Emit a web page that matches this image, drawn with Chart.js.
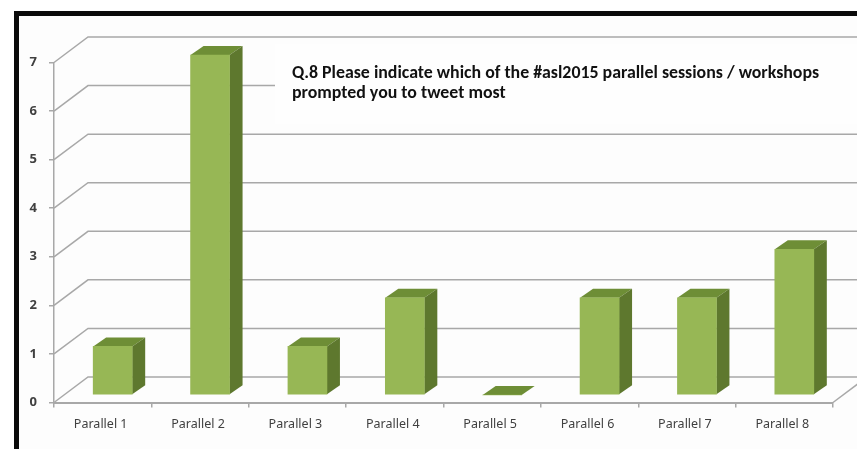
<!DOCTYPE html>
<html>
<head>
<meta charset="utf-8">
<script src="https://cdn.jsdelivr.net/npm/chart.js@4"></script>
<style>
  html, body { margin: 0; padding: 0; background: #fff; overflow: hidden; }
  canvas { display: block; filter: blur(0.35px); }
</style>
</head>
<body>
<canvas id="chart" width="857" height="449"></canvas>
<script>
const categories = ["Parallel 1", "Parallel 2", "Parallel 3", "Parallel 4", "Parallel 5", "Parallel 6", "Parallel 7", "Parallel 8"];
const counts = [1, 7, 1, 2, 0, 2, 2, 3];
const titleLines = ["Q.8 Please indicate which of the #asl2015 parallel sessions / workshops", "prompted you to tweet most"];

const GRID = "#a8a8a8";
const FRONT = "#97b755";
const TOP = "#6e8e36";
const SIDE = "#5e782e";

// the 3d look: bars sit in front of the axis plane, gridlines run on a back wall
const barShift = { x: 10, y: -7.5 };
const barDepth = { x: 13, y: -9 };
const wallDepth = { x: 34, y: -25.5 };

function poly(ctx, color, pts) {
  ctx.fillStyle = color;
  ctx.beginPath();
  pts.forEach((p, i) => (i ? ctx.lineTo(p[0], p[1]) : ctx.moveTo(p[0], p[1])));
  ctx.closePath();
  ctx.fill();
}

const fake3d = {
  id: "fake3d",
  beforeDraw(chart) {
    const ctx = chart.ctx;
    ctx.save();
    ctx.fillStyle = "#fdfdfd";
    ctx.fillRect(16, 13, 841, 436);
    // picture frame
    ctx.fillStyle = "#0a0a0a";
    ctx.fillRect(14, 11, 843, 5);
    ctx.fillRect(14, 11, 5, 438);
    ctx.restore();
  },
  beforeDatasetsDraw(chart) {
    const ctx = chart.ctx;
    const { x, y } = chart.scales;
    const left = x.left, right = x.right;
    ctx.save();
    ctx.strokeStyle = GRID;
    ctx.lineWidth = 1.5;
    y.ticks.forEach((t) => {
      const py = y.getPixelForValue(t.value);
      ctx.beginPath();
      ctx.moveTo(left, py);
      ctx.lineTo(left + wallDepth.x, py + wallDepth.y);
      ctx.lineTo(right + wallDepth.x, py + wallDepth.y);
      ctx.stroke();
    });
    const y0 = y.getPixelForValue(0);
    ctx.beginPath();
    ctx.moveTo(right, y0);
    ctx.lineTo(right + wallDepth.x, y0 + wallDepth.y);
    ctx.stroke();
    // white box behind the title hides the wall lines
    ctx.fillStyle = "#fefefe";
    ctx.fillRect(275, 44, 582, 80);
    ctx.restore();

    ctx.save();
    ctx.translate(barShift.x, barShift.y);
    chart.getDatasetMeta(0).data.forEach((bar) => {
      const l = bar.x - bar.width / 2, r = bar.x + bar.width / 2;
      const dx = barDepth.x, dy = barDepth.y;
      poly(ctx, TOP, [[l, bar.y], [r, bar.y], [r + dx, bar.y + dy], [l + dx, bar.y + dy]]);
      if (bar.base - bar.y > 0.5) {
        poly(ctx, SIDE, [[r, bar.y], [r + dx, bar.y + dy], [r + dx, bar.base + dy], [r, bar.base]]);
      }
    });
  },
  afterDatasetsDraw(chart) {
    const ctx = chart.ctx;
    ctx.restore();
    ctx.save();
    ctx.fillStyle = "#111";
    ctx.font = "bold 17.85px Carlito, Lato, sans-serif";
    ctx.textBaseline = "alphabetic";
    ctx.fillText(titleLines[0], 292, 78);
    ctx.fillText(titleLines[1], 292, 98);
    ctx.restore();
  }
};

new Chart(document.getElementById("chart"), {
  type: "bar",
  data: {
    labels: categories,
    datasets: [{ data: counts, backgroundColor: FRONT, barThickness: 39, clip: false }]
  },
  options: {
    responsive: false,
    animation: false,
    layout: { padding: { top: 62.5, right: 24, left: 0, bottom: 0 } },
    plugins: { legend: { display: false }, tooltip: { enabled: false } },
    scales: {
      x: {
        afterFit: (s) => { s.height = 46.5; },
        grid: { drawOnChartArea: false, color: GRID, tickLength: 5, offset: true, lineWidth: 1.5 },
        border: { color: GRID, width: 2 },
        ticks: { color: "#404040", font: { family: "'Noto Sans', sans-serif", size: 12.5 }, padding: 9, maxRotation: 0, labelOffset: -2 }
      },
      y: {
        min: 0,
        max: 7,
        afterFit: (s) => { s.width = 54; },
        grid: { drawOnChartArea: false, color: GRID, tickLength: 5, lineWidth: 1.5 },
        border: { color: GRID, width: 1.5 },
        ticks: { stepSize: 1, color: "#404040", font: { family: "'Open Sans', sans-serif", size: 13, weight: "bold" }, padding: 12 }
      }
    }
  },
  plugins: [fake3d]
});
</script>
</body>
</html>
